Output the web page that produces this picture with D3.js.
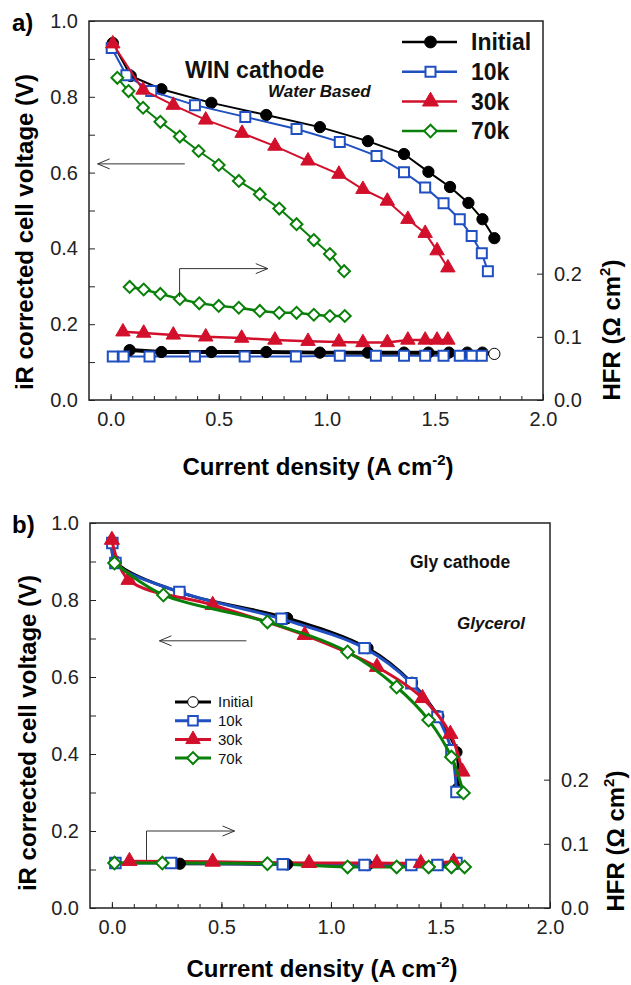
<!DOCTYPE html>
<html>
<head>
<meta charset="utf-8">
<script src="https://cdn.jsdelivr.net/npm/d3@7"></script>
<style>
  body { margin: 0; background: #fff; }
  svg { display: block; font-family: Arial, "Liberation Sans", sans-serif; }
</style>
</head>
<body>
<div id="chart"></div>
<script>
// ---- data ----
const seriesNames = ["Initial", "10k", "30k", "70k"];
const xTicksMajor = [0, 0.5, 1.0, 1.5, 2.0];
const yTicksMajor = [0, 0.2, 0.4, 0.6, 0.8, 1.0];
const hfrTicks = [0, 0.1, 0.2];

// a) WIN cathode - polarization
const aCurrentInitial = [0.01, 0.093, 0.235, 0.466, 0.72, 0.968, 1.19, 1.357, 1.47, 1.57, 1.655, 1.72, 1.775];
const aVoltageInitial = [0.942, 0.855, 0.82, 0.784, 0.752, 0.72, 0.683, 0.649, 0.602, 0.562, 0.52, 0.477, 0.427];
const aCurrent10k = [0.005, 0.073, 0.188, 0.39, 0.623, 0.86, 1.06, 1.23, 1.357, 1.455, 1.54, 1.615, 1.67, 1.717, 1.745];
const aVoltage10k = [0.929, 0.857, 0.815, 0.778, 0.747, 0.715, 0.681, 0.644, 0.601, 0.561, 0.519, 0.477, 0.433, 0.387, 0.34];
const aCurrent30k = [0.01, 0.15, 0.29, 0.44, 0.608, 0.76, 0.913, 1.056, 1.167, 1.28, 1.375, 1.455, 1.51, 1.56];
const aVoltage30k = [0.94, 0.818, 0.778, 0.739, 0.704, 0.67, 0.631, 0.596, 0.556, 0.525, 0.477, 0.44, 0.394, 0.349];
const aCurrent70k = [0.031, 0.083, 0.15, 0.23, 0.32, 0.407, 0.5, 0.593, 0.69, 0.78, 0.86, 0.94, 1.014, 1.08];
const aVoltage70k = [0.85, 0.815, 0.771, 0.734, 0.695, 0.657, 0.62, 0.578, 0.543, 0.505, 0.464, 0.422, 0.385, 0.34];

// a) WIN cathode - HFR
const aHfrCurrentInitial = [0.088, 0.235, 0.466, 0.72, 0.968, 1.19, 1.357, 1.47, 1.565, 1.65, 1.72, 1.775];
const aHfrInitial = [0.079, 0.076, 0.076, 0.076, 0.075, 0.075, 0.075, 0.075, 0.075, 0.075, 0.075, 0.073];
const aHfrCurrent10k = [0.01, 0.06, 0.18, 0.39, 0.62, 0.857, 1.06, 1.227, 1.357, 1.455, 1.54, 1.615, 1.67, 1.717];
const aHfr10k = [0.069, 0.069, 0.069, 0.069, 0.069, 0.069, 0.07, 0.07, 0.07, 0.07, 0.07, 0.07, 0.07, 0.07];
const aHfrCurrent30k = [0.057, 0.153, 0.29, 0.44, 0.606, 0.76, 0.913, 1.056, 1.167, 1.28, 1.375, 1.455, 1.51, 1.56];
const aHfr30k = [0.108, 0.106, 0.103, 0.1, 0.098, 0.095, 0.093, 0.092, 0.091, 0.091, 0.095, 0.095, 0.095, 0.095];
const aHfrCurrent70k = [0.088, 0.153, 0.23, 0.32, 0.41, 0.5, 0.593, 0.69, 0.78, 0.86, 0.94, 1.014, 1.083];
const aHfr70k = [0.179, 0.175, 0.168, 0.16, 0.153, 0.149, 0.146, 0.141, 0.138, 0.138, 0.135, 0.133, 0.133];

// b) Gly cathode - polarization
const bCurrentInitial = [0.0, 0.016, 0.31, 0.8, 1.167, 1.37, 1.49, 1.573, 1.578];
const bVoltageInitial = [0.95, 0.9, 0.82, 0.753, 0.675, 0.585, 0.498, 0.405, 0.31];
const bCurrent10k = [0.002, 0.016, 0.308, 0.774, 1.153, 1.367, 1.486, 1.55, 1.573];
const bVoltage10k = [0.948, 0.896, 0.821, 0.751, 0.675, 0.584, 0.496, 0.41, 0.301];
const bCurrent30k = [0.0, 0.076, 0.46, 0.88, 1.21, 1.418, 1.545, 1.6];
const bVoltage30k = [0.956, 0.852, 0.787, 0.709, 0.626, 0.545, 0.452, 0.354];
const bCurrent70k = [0.012, 0.235, 0.71, 1.076, 1.3, 1.446, 1.55, 1.605];
const bVoltage70k = [0.896, 0.813, 0.743, 0.665, 0.574, 0.488, 0.392, 0.299];

// b) Gly cathode - HFR
const bHfrCurrentInitial = [0.31, 0.8, 1.167, 1.37, 1.49, 1.573];
const bHfrInitial = [0.069, 0.068, 0.067, 0.067, 0.067, 0.069];
const bHfrCurrent10k = [0.016, 0.27, 0.78, 1.153, 1.367, 1.486, 1.573];
const bHfr10k = [0.07, 0.07, 0.068, 0.067, 0.067, 0.067, 0.07];
const bHfrCurrent30k = [0.08, 0.46, 0.9, 1.21, 1.41, 1.56];
const bHfr30k = [0.073, 0.072, 0.07, 0.07, 0.07, 0.072];
const bHfrCurrent70k = [0.012, 0.23, 0.71, 1.076, 1.3, 1.446, 1.55, 1.61];
const bHfr70k = [0.07, 0.07, 0.069, 0.064, 0.064, 0.064, 0.064, 0.064];

// ---- styling ----
const colors = ["#000000", "#1f4fc0", "#d2102c", "#0a800a"];
const symbols = ["circle", "square", "triangle", "diamond"];

const W = 631, H = 985;
const svg = d3.select("#chart").append("svg").attr("width", W).attr("height", H);

const zip = (xs, ys) => xs.map((x, i) => ({ x: x, y: ys[i] }));

function markerPath(kind, size) {
    switch (kind) {
        case "circle": return d3.symbol(d3.symbolCircle, size)();
        case "triangle": return d3.symbol(d3.symbolTriangle, size)();
        default: return d3.symbol(d3.symbolSquare, size)();   // square, diamond (rotated)
    }
}

function placeMarker(sel, i, size, fillFn) {
    sel.attr("d", markerPath(symbols[i], size))
        .attr("fill", fillFn)
        .attr("stroke", colors[i])
        .attr("stroke-width", symbols[i] === "circle" || symbols[i] === "triangle" ? 1 : 2);
}

function drawMarkers(g, pts, i, xs, ys, cfg, openLast) {
    const rot = symbols[i] === "diamond" ? " rotate(45)" : "";
    g.selectAll(null)
        .data(pts)
        .join("path")
        .attr("transform", d => `translate(${xs(d.x)},${ys(d.y)})` + rot)
        .call(placeMarker, i, cfg.markerSize[i],
            (d, k) => (cfg.filled[i] && !(openLast && k === pts.length - 1)) ? colors[i] : "#fff");
}

function arrowHead(g, x, y, dir) {
    g.append("path")
        .attr("d", `M${x - dir * 12},${y - 5}L${x},${y}L${x - dir * 12},${y + 5}`)
        .attr("fill", "none").attr("stroke", "#333").attr("stroke-width", 1);
}

function drawPanel(cfg) {
    const x = d3.scaleLinear().domain([-0.1, 2.0]).range([cfg.left, cfg.right]);
    const y = d3.scaleLinear().domain([0, 1.0]).range([cfg.bottom, cfg.top]);
    const yH = d3.scaleLinear().domain([0, 0.6]).range([cfg.bottom, cfg.top]);
    const g = svg.append("g");

    const styleAxis = sel => {
        sel.select(".domain").remove();
        sel.selectAll("text").attr("font-size", 20).attr("font-family", "Arial, 'Liberation Sans', sans-serif").attr("fill", "#222");
        sel.selectAll("line").attr("stroke", "#222");
    };

    // minor + major ticks, all pointing inward
    g.append("g").attr("transform", `translate(0,${cfg.bottom})`)
        .call(d3.axisBottom(x).tickValues(d3.range(0, 2.0, 0.1)).tickSize(-4).tickFormat(""))
        .call(styleAxis);
    g.append("g").attr("transform", `translate(0,${cfg.bottom})`)
        .call(d3.axisBottom(x).tickValues(xTicksMajor).tickSize(-6).tickPadding(12).tickFormat(d3.format(".1f")))
        .call(styleAxis);
    g.append("g").attr("transform", `translate(${cfg.left},0)`)
        .call(d3.axisLeft(y).tickValues(d3.range(0.1, 1.0, 0.2)).tickSize(-6).tickFormat(""))
        .call(styleAxis);
    g.append("g").attr("transform", `translate(${cfg.left},0)`)
        .call(d3.axisLeft(y).tickValues(yTicksMajor).tickSize(-6).tickPadding(11).tickFormat(d3.format(".1f")))
        .call(styleAxis);
    g.append("g").attr("transform", `translate(${cfg.right},0)`)
        .call(d3.axisRight(yH).tickValues(hfrTicks).tickSize(-6).tickPadding(11).tickFormat(d3.format(".1f")))
        .call(styleAxis);

    g.append("rect")
        .attr("x", cfg.left).attr("y", cfg.top)
        .attr("width", cfg.right - cfg.left).attr("height", cfg.bottom - cfg.top)
        .attr("fill", "none").attr("stroke", "#222").attr("stroke-width", 1.5);

    const curve = cfg.smooth ? d3.curveCatmullRom.alpha(0.5) : d3.curveLinear;
    const lineV = d3.line().x(d => x(d.x)).y(d => y(d.y)).curve(curve);
    const lineH = d3.line().x(d => x(d.x)).y(d => yH(d.y)).curve(curve);

    // HFR curves (right axis): lines in the given order, then markers
    cfg.hfrLineOrder.forEach(i => {
        g.append("path").datum(cfg.hfr[i]).attr("d", lineH)
            .attr("fill", "none").attr("stroke", colors[i])
            .attr("stroke-width", cfg.hfrWidth[i]);
    });
    cfg.hfr.forEach((pts, i) => drawMarkers(g, pts, i, x, yH, cfg, cfg.openLastInitial && i === 0));

    // polarization curves (left axis)
    cfg.pol.forEach((pts, i) => {
        g.append("path").datum(pts).attr("d", lineV)
            .attr("fill", "none").attr("stroke", colors[i])
            .attr("stroke-width", cfg.lineWidth);
        drawMarkers(g, pts, i, x, y, cfg, false);
    });

    // arrows pointing to the axes
    const a1 = cfg.leftArrow;
    g.append("line").attr("x1", x(a1.from)).attr("x2", x(a1.to)).attr("y1", y(a1.v)).attr("y2", y(a1.v))
        .attr("stroke", "#333").attr("stroke-width", 1);
    arrowHead(g, x(a1.to), y(a1.v), -1);
    const a2 = cfg.rightArrow;
    g.append("path")
        .attr("d", `M${x(a2.x)},${yH(a2.h0)}L${x(a2.x)},${yH(a2.h1)}L${x(a2.to)},${yH(a2.h1)}`)
        .attr("fill", "none").attr("stroke", "#333").attr("stroke-width", 1);
    arrowHead(g, x(a2.to), yH(a2.h1), 1);

    // panel letter
    g.append("text").attr("x", 12).attr("y", cfg.top + 10)
        .attr("font-size", 24).attr("font-weight", "bold").text(cfg.letter);

    // axis titles
    g.append("text")
        .attr("transform", `translate(${cfg.left - 56 + cfg.titleShift},${cfg.yTitleCenter}) rotate(-90)`)
        .attr("text-anchor", "middle").attr("font-size", 24).attr("font-weight", "bold")
        .text("iR corrected cell voltage (V)");
    const xt = g.append("text")
        .attr("x", (cfg.left + cfg.right) / 2 + 2).attr("y", cfg.bottom + cfg.xTitleDrop)
        .attr("text-anchor", "middle").attr("font-size", 24).attr("font-weight", "bold");
    xt.append("tspan").text("Current density (A cm");
    xt.append("tspan").attr("font-size", 15).attr("dy", -10).text("-2");
    xt.append("tspan").attr("dy", 10).text(")");
    const ht = g.append("text")
        .attr("transform", `translate(${cfg.right + cfg.hTitleGap},${cfg.hTitleCenter}) rotate(-90)`)
        .attr("text-anchor", "middle").attr("font-size", 24).attr("font-weight", "bold");
    ht.append("tspan").text("HFR (\u03A9 cm");
    ht.append("tspan").attr("font-size", 15).attr("dy", -10).text("2");
    ht.append("tspan").attr("dy", 10).text(")");

    // legend
    const L = cfg.legend;
    seriesNames.forEach((name, i) => {
        const ly = L.y0 + i * L.dy;
        g.append("line").attr("x1", L.x0).attr("x2", L.x1).attr("y1", ly).attr("y2", ly)
            .attr("stroke", colors[i]).attr("stroke-width", L.lineWidth);
        const mx = (L.x0 + L.x1) / 2 + L.markerShift;
        g.append("path")
            .attr("transform", `translate(${mx},${ly})` + (symbols[i] === "diamond" ? " rotate(45)" : ""))
            .call(placeMarker, i, L.markerSize[i], L.filled[i] ? colors[i] : "#fff");
        g.append("text").attr("x", L.x1 + L.gap).attr("y", ly + L.fontSize * 0.36)
            .attr("font-size", L.fontSize).attr("font-weight", L.weight).attr("fill", "#111")
            .text(name);
    });

    // annotations
    cfg.notes.forEach(n => {
        g.append("text").attr("x", n.x).attr("y", n.y)
            .attr("font-size", n.size).attr("font-weight", "bold")
            .attr("font-style", n.italic ? "italic" : "normal")
            .attr("fill", "#111").text(n.text);
    });

    return g;
}

// ---- panel a ----
drawPanel({
    letter: "a)", left: 89, right: 543, top: 21, bottom: 400, smooth: false, titleShift: 0,
    lineWidth: 2, hfrWidth: [4, 2, 2.5, 2.5], markerSize: [100, 100, 90, 70],
    filled: [true, false, true, false],
    yTitleCenter: 232, hTitleCenter: 330, hTitleGap: 77, xTitleDrop: 75, openLastInitial: true,
    pol: [zip(aCurrentInitial, aVoltageInitial), zip(aCurrent10k, aVoltage10k),
          zip(aCurrent30k, aVoltage30k), zip(aCurrent70k, aVoltage70k)],
    hfr: [zip(aHfrCurrentInitial, aHfrInitial), zip(aHfrCurrent10k, aHfr10k),
          zip(aHfrCurrent30k, aHfr30k), zip(aHfrCurrent70k, aHfr70k)],
    hfrLineOrder: [1, 0, 2, 3],
    leftArrow: { from: 0.343, to: -0.06, v: 0.623 },
    rightArrow: { x: 0.319, h0: 0.163, h1: 0.208, to: 0.727 },
    legend: { x0: 402, x1: 457, y0: 42, dy: 29.7, lineWidth: 2.5, markerShift: 1,
              markerSize: [110, 100, 110, 80], filled: [true, false, true, false],
              gap: 14, fontSize: 23, weight: "bold" },
    notes: [
        { text: "WIN cathode", x: 185, y: 78, size: 23 },
        { text: "Water Based", x: 268, y: 97, size: 17, italic: true }
    ]
});

// ---- panel b ----
drawPanel({
    letter: "b)", left: 90, right: 550, top: 523, bottom: 908, smooth: true, titleShift: 2,
    lineWidth: 3, hfrWidth: [3, 3, 3, 3], markerSize: [100, 110, 100, 80],
    filled: [true, false, true, false],
    yTitleCenter: 733, hTitleCenter: 841, hTitleGap: 74, xTitleDrop: 69, openLastInitial: false,
    pol: [zip(bCurrentInitial, bVoltageInitial), zip(bCurrent10k, bVoltage10k),
          zip(bCurrent30k, bVoltage30k), zip(bCurrent70k, bVoltage70k)],
    hfr: [zip(bHfrCurrentInitial, bHfrInitial), zip(bHfrCurrent10k, bHfr10k),
          zip(bHfrCurrent30k, bHfr30k), zip(bHfrCurrent70k, bHfr70k)],
    hfrLineOrder: [0, 1, 2, 3],
    leftArrow: { from: 0.614, to: 0.217, v: 0.694 },
    rightArrow: { x: 0.158, h0: 0.075, h1: 0.12, to: 0.56 },
    legend: { x0: 175, x1: 211, y0: 702, dy: 18.7, lineWidth: 3, markerShift: 0,
              markerSize: [90, 90, 90, 70], filled: [false, false, true, false],
              gap: 7, fontSize: 15, weight: "normal" },
    notes: [
        { text: "Gly cathode", x: 410, y: 568, size: 17.5 },
        { text: "Glycerol", x: 457, y: 629, size: 17, italic: true }
    ]
});
</script>
</body>
</html>
